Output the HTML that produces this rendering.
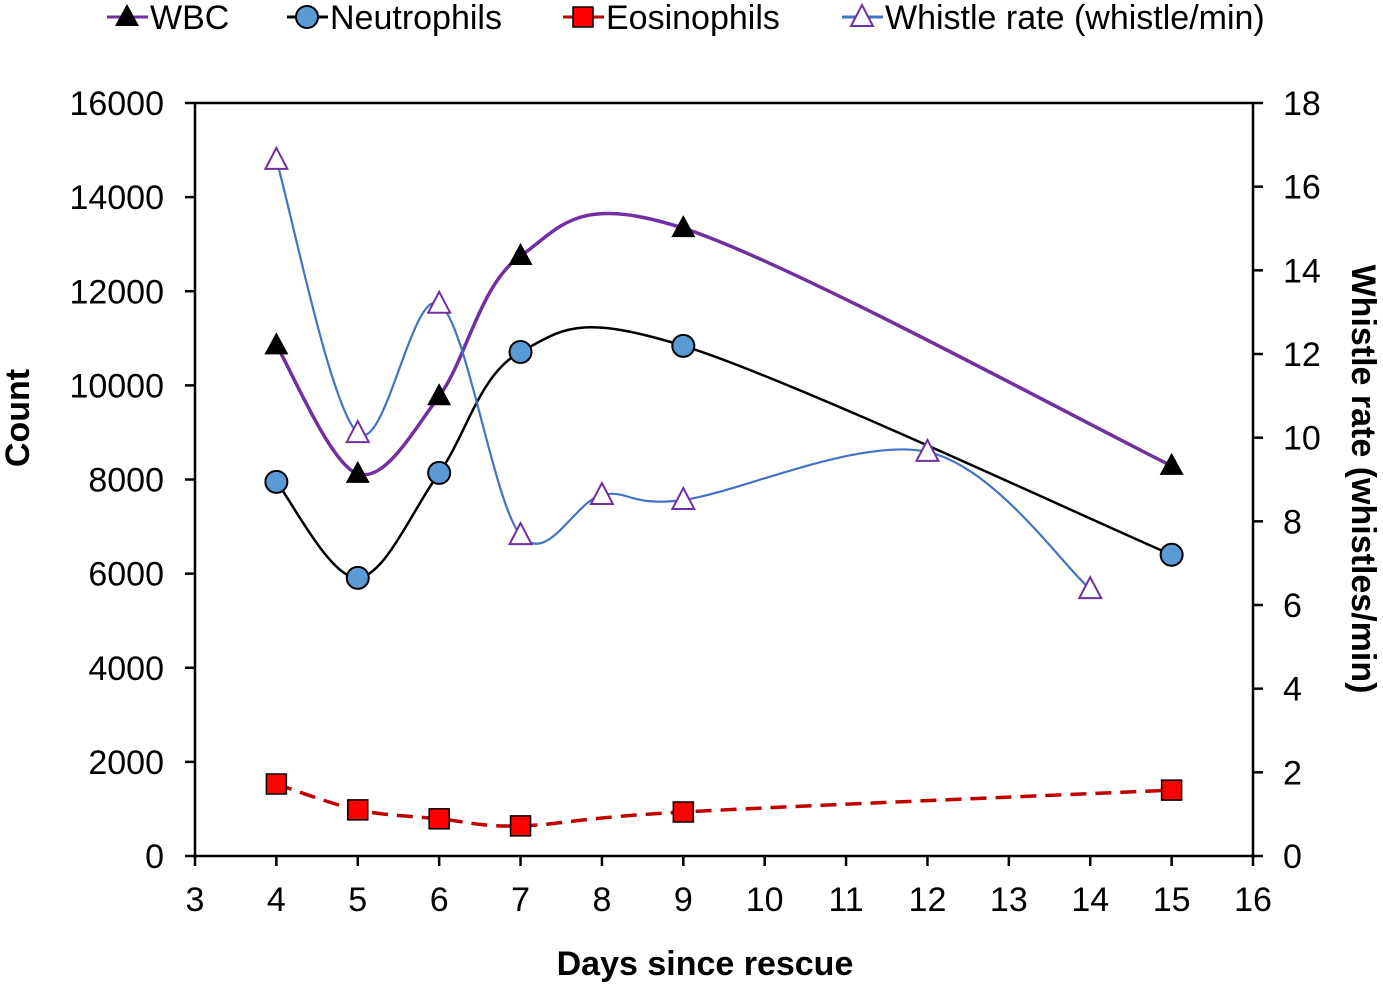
<!DOCTYPE html>
<html><head><meta charset="utf-8"><style>
body{margin:0;background:#fff;}
svg{display:block;font-family:"Liberation Sans",Arial,sans-serif;}
</style></head><body>
<svg id="chart" width="1383" height="986" viewBox="0 0 1383 986" xmlns="http://www.w3.org/2000/svg"></svg>
<script>
const wbcDays=[4,5,6,7,9,15];
const wbcValues=[10850,8120,9770,12750,13340,8290];
const neuDays=[4,5,6,7,9,15];
const neuValues=[7950,5910,8140,10710,10840,6400];
const eosDays=[4,5,6,7,9,15];
const eosValues=[1530,980,790,640,935,1400];
const whDays=[4,5,6,7,8,9,12,14];
const whValues=[16.64,10.11,13.2,7.67,8.63,8.51,9.66,6.38];
const xTicks=[3,4,5,6,7,8,9,10,11,12,13,14,15,16];
const yTicks=[0,2000,4000,6000,8000,10000,12000,14000,16000];
const y2Ticks=[0,2,4,6,8,10,12,14,16,18];

const NS="http://www.w3.org/2000/svg";
const svg=document.getElementById('chart');
const L=195,R=1253,T=103,B=856;
const xS=v=>L+(v-3)/13*(R-L);
const yS=v=>B-v/16000*(B-T);
const y2S=v=>B-v/18*(B-T);
function el(tag,attrs,parent){const e=document.createElementNS(NS,tag);for(const k in attrs)e.setAttribute(k,attrs[k]);(parent||svg).appendChild(e);return e;}

const frame=el('rect',{x:L,y:T,width:R-L,height:B-T,fill:'none',stroke:'#000','stroke-width':2.5});



xTicks.forEach(t=>{
  const x=xS(t);
  const l=el('line',{x1:x,y1:B,x2:x,y2:B+10,stroke:'#000','stroke-width':2.5});
  
  
  const tx=el('text',{x:x,y:911,'font-size':34,'text-anchor':'middle',fill:'#000'});
  tx.textContent=t;
  
  
});
yTicks.forEach(t=>{
  const y=yS(t);
  const l=el('line',{x1:L-10,y1:y,x2:L,y2:y,stroke:'#000','stroke-width':2.5});
  
  
  const tx=el('text',{x:164,y:y+12,'font-size':34,'text-anchor':'end',fill:'#000'});
  tx.textContent=t;
  
  
});
y2Ticks.forEach(t=>{
  const y=y2S(t);
  const l=el('line',{x1:R,y1:y,x2:R+10,y2:y,stroke:'#000','stroke-width':2.5});
  
  
  const tx=el('text',{x:1283,y:y+12,'font-size':34,'text-anchor':'start',fill:'#000'});
  tx.textContent=t;
  
  
});

function smoothPath(pts){
  let d=`M${pts[0][0]},${pts[0][1]}`;
  for(let i=0;i<pts.length-1;i++){
    const p0=pts[i-1]||pts[i],p1=pts[i],p2=pts[i+1],p3=pts[i+2]||p2;
    const c1=[p1[0]+(p2[0]-p0[0])/6,p1[1]+(p2[1]-p0[1])/6];
    const c2=[p2[0]-(p3[0]-p1[0])/6,p2[1]-(p3[1]-p1[1])/6];
    d+=` C${c1[0]},${c1[1]} ${c2[0]},${c2[1]} ${p2[0]},${p2[1]}`;
  }
  return d;
}
function marker(kind,x,y,name){
  let m;
  if(kind==='tri') m=el('polygon',{points:`${x},${y-13} ${x-12},${y+9} ${x+12},${y+9}`,fill:'#000'});
  else if(kind==='circ') m=el('circle',{cx:x,cy:y,r:11,fill:'#5B9BD5',stroke:'#000','stroke-width':2});
  else if(kind==='sq') m=el('rect',{x:x-10,y:y-10,width:20,height:20,fill:'#FF0000',stroke:'#000','stroke-width':1.5});
  else m=el('polygon',{points:`${x},${y-12} ${x-11},${y+9} ${x+11},${y+9}`,fill:'#fff',stroke:'#7030A0','stroke-width':2});
  
  
}
function series(days,vals,ys,color,w,dash,kind,name){
  const pts=days.map((d,i)=>[xS(d),ys(vals[i])]);
  const p=el('path',{d:smoothPath(pts),fill:'none',stroke:color,'stroke-width':w});
  if(dash)p.setAttribute('stroke-dasharray',dash);
  
  
  pts.forEach(q=>marker(kind,q[0],q[1],name+'-point'));
}
series(eosDays,eosValues,yS,'#C00000',3.5,'16,9','sq','eosinophils');
series(neuDays,neuValues,yS,'#000',2.5,null,'circ','neutrophils');
series(wbcDays,wbcValues,yS,'#7030A0',3.5,null,'tri','wbc');
series(whDays,whValues,y2S,'#4472C4',2.2,null,'open','whistle-rate');

let t=el('text',{x:705,y:975,'font-size':34,'font-weight':'bold','text-anchor':'middle'});
t.textContent='Days since rescue';


t=el('text',{x:0,y:0,'font-size':34,'font-weight':'bold','text-anchor':'middle',transform:'translate(29,418) rotate(-90)'});
t.textContent='Count';


t=el('text',{x:0,y:0,'font-size':34,'font-weight':'bold','text-anchor':'middle',transform:'translate(1352,479) rotate(90)'});
t.textContent='Whistle rate (whistles/min)';



const legendItems=[[107,'#7030A0','tri','WBC'],[287,'#000','circ','Neutrophils'],[563,'#C00000','sq','Eosinophils'],[842,'#4472C4','open','Whistle rate (whistle/min)']];
legendItems.forEach(([x,c,k,label])=>{
  const l=el('line',{x1:x,y1:17,x2:x+41,y2:17,stroke:c,'stroke-width':3});
  
  
  marker(k,x+20,17,'legend-marker');
  const tx=el('text',{x:x+43,y:29,'font-size':34});
  tx.textContent=label;
  
  
});
</script>
</body></html>
